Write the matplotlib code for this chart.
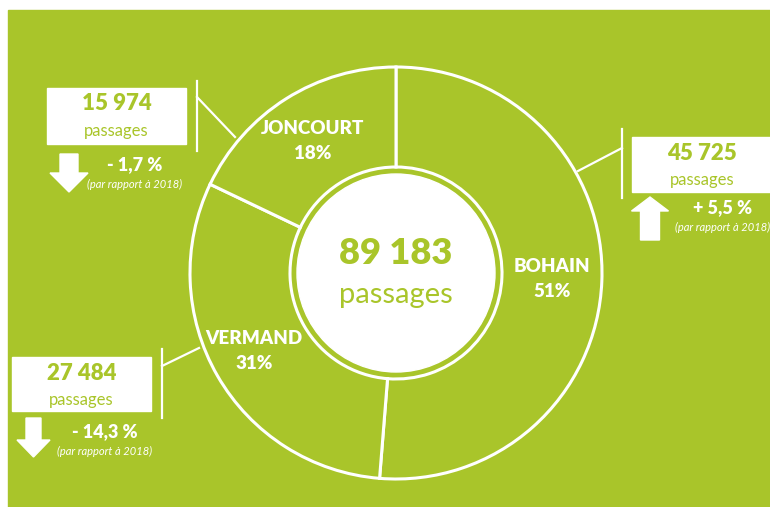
import matplotlib.pyplot as plt
from matplotlib.patches import Rectangle, Circle, FancyArrow

plt.rcParams["font.family"] = ["Lato", "DejaVu Sans"]

# data
sites = ["BOHAIN", "VERMAND", "JONCOURT"]
passages = [45725, 27484, 15974]
evolution = [5.5, -14.3, -1.7]
reference_year = 2018

GREEN = "#A9C52A"
W, H = 770, 507
BOLD = "heavy"


def fmt_int(v):
    return f"{v:,}".replace(",", " ")


def fmt_pct(v):
    sign = "+" if v > 0 else "-"
    return f"{sign} {abs(v):.1f} %".replace(".", ",")


fig = plt.figure(figsize=(W / 100, H / 100), dpi=100)
fig.patch.set_facecolor("white")
ax = fig.add_axes([0, 0, 1, 1])
ax.set_xlim(0, W)
ax.set_ylim(H, 0)
ax.axis("off")
ax.add_patch(Rectangle((8, 10), W - 8, H - 10, color=GREEN, zorder=0))

# donut
cx, cy, R, r_in, r_disk = 396, 273, 206, 106, 99
pad = 10
pax = fig.add_axes([(cx - R - pad) / W, (H - cy - R - pad) / H,
                    2 * (R + pad) / W, 2 * (R + pad) / H])
pax.axis("off")
scale = R / (R + pad)
total = sum(passages)
labels = [f"{s}\n{p / total * 100:.0f}%" for s, p in zip(sites, passages)]
_, texts = pax.pie(passages, labels=labels, startangle=90, counterclock=False, radius=scale,
                   colors=[GREEN] * len(passages),
                   wedgeprops=dict(width=scale * (R - r_in) / R, edgecolor="white", linewidth=2.2),
                   labeldistance=0.757,
                   textprops=dict(color="white", fontsize=13.5, fontweight=BOLD,
                                  ha="center", va="center", linespacing=1.55))
# VERMAND label sits a bit further left in the original
texts[1].set_x(texts[1].get_position()[0] - 7 / (R + pad))
pax.set_xlim(-1, 1)
pax.set_ylim(-1, 1)
pax.add_patch(Circle((0, 0), r_disk / (R + pad), color="white", zorder=3))
pax.text(0, 20 / (R + pad), fmt_int(total), color=GREEN, fontsize=26,
         fontweight=BOLD, ha="center", va="center", zorder=4)
pax.text(0, -22 / (R + pad), "passages", color=GREEN, fontsize=21,
         ha="center", va="center", zorder=4)

# callouts (layout in pixels, one per site)
boxes = [(632, 137, 138, 55), (12, 357, 139, 54), (47, 88, 139, 56)]
change_xy = [(723, 208), (105, 432), (135, 165)]
arrows = [(650, 19, 37, 14, 43), (33.5, 15, 33, 17, 39), (69, 18, 38, 19, 38)]
arrow_top = [197, 418, 154]
leaders = [
    ((622, 622), (129, 198), (622, 578), (148, 171)),
    ((162, 162), (349, 418), (162, 199), (366, 348)),
    ((197, 197), (81, 151), (197, 235), (97, 137)),
]

for i in range(len(sites)):
    bx, by, bw, bh = boxes[i]
    ax.add_patch(Rectangle((bx, by), bw, bh, color="white", zorder=2))
    mx = bx + bw / 2 if bx + bw < W else bx + 70
    ax.text(mx, by + 16, fmt_int(passages[i]), color=GREEN, fontsize=16,
            fontweight=BOLD, ha="center", va="center", zorder=3)
    ax.text(mx, by + 43, "passages", color=GREEN, fontsize=12,
            ha="center", va="center", zorder=3)

    tx, ty = change_xy[i]
    ax.text(tx, ty, fmt_pct(evolution[i]), color="white", fontsize=13,
            fontweight=BOLD, ha="center", va="center")
    ax.text(tx, ty + 19, f"(par rapport à {reference_year})", color="white",
            fontsize=8, style="italic", ha="center", va="center")

    x0, w, hw, hl, ln = arrows[i]
    if evolution[i] > 0:
        arr = FancyArrow(x0, arrow_top[i] + ln, 0, -ln, width=w, head_width=hw,
                         head_length=hl, length_includes_head=True, color="white")
    else:
        arr = FancyArrow(x0, arrow_top[i], 0, ln, width=w, head_width=hw,
                         head_length=hl, length_includes_head=True, color="white")
    ax.add_patch(arr)

    vx, vy, dx, dy = leaders[i]
    ax.plot(vx, vy, color="white", lw=1.6)
    ax.plot(dx, dy, color="white", lw=1.6)

fig.savefig("out.png", dpi=100, facecolor=fig.get_facecolor())
